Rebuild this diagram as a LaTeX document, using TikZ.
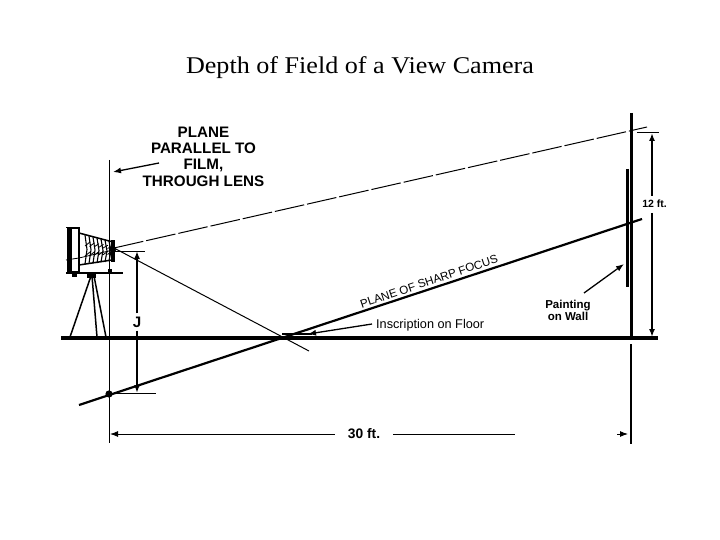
\documentclass[tikz,border=0pt]{standalone}
\usepackage{fontspec}
\setmainfont{Liberation Serif}
\newfontfamily\labelfont{Liberation Sans}
\usetikzlibrary{arrows.meta}
\tikzset{
  x=1pt,y=-1pt,
  thinl/.style={line width=1pt,black},
  med/.style={line width=1.6pt,black},
  heavy/.style={line width=3pt,black},
  headed/.style={-{Latex[length=8pt,width=6pt]}},
  boldlab/.style={font=\labelfont\bfseries\fontsize{15.2}{16.3}\selectfont,align=center,inner sep=0pt},
  smalllab/.style={font=\labelfont\fontsize{12.7}{11.5}\selectfont,align=center,inner sep=0pt},
}
\begin{document}
\begin{tikzpicture}
\useasboundingbox[fill=white] (0,0) rectangle (720,540);
\node[inner sep=0pt,font=\fontsize{24}{26}\selectfont] (title) at (360,68) {\scalebox{1.088}[1]{Depth of Field of a View Camera}};

% named points
\coordinate (lensT) at (109,160); \coordinate (lensB) at (109,443);
\coordinate (floorL) at (61,338); \coordinate (floorR) at (658,338);
\coordinate (wallT) at (631,113); \coordinate (wallB) at (631,338);
\coordinate (wallLT) at (631,344); \coordinate (wallLB) at (631,444);
\coordinate (paintT) at (627,169); \coordinate (paintB) at (627,287);
\coordinate (lens) at (114,248); \coordinate (dashEnd) at (647,127);
\coordinate (focusL) at (79,405); \coordinate (focusR) at (642,219);
\coordinate (diagA) at (114,248); \coordinate (diagB) at (309,351);
\coordinate (hinge) at (109,394);

% main lines
\draw[thinl] (lensT) -- (lensB);
\draw[line width=4pt] (floorL) -- (floorR);
\draw[heavy] (wallT) -- (wallB);
\draw[line width=1.6pt] (wallLT) -- (wallLB);
\draw[heavy] (paintT) -- (paintB);
\draw[line width=1pt,dash pattern=on 30pt off 3pt] (lens) -- (dashEnd);
\draw[line width=2.2pt] (focusL) -- (focusR);
\draw[thinl] (diagA) -- (diagB);
\fill (hinge) circle (3.6);
\draw[line width=2.4pt] (282,334) -- (312,334);

% J dimension
\coordinate (jtopT) at (115,251); \coordinate (jtopE) at (145,251);
\coordinate (jbotT) at (109,393); \coordinate (jbotE) at (156,393);
\draw[thinl] (jtopT) -- (jtopE);
\draw[thinl] (jbotT) -- (jbotE);
\node[boldlab] (J) at (137,322) {J};
\coordinate (jTip) at (137,251); \coordinate (jBot) at (137,393);
\draw[med,headed] (J.north) ++(0,-3) -- (jTip);
\draw[med,headed] (J.south) ++(0,3) -- (jBot);

% 12 ft dimension
\coordinate (tickA) at (637,133); \coordinate (tickB) at (659,133);
\coordinate (twTop) at (652,133); \coordinate (twBot) at (652,337);
\draw[thinl] (tickA) -- (tickB);
\node[font=\labelfont\bfseries\fontsize{10.5}{11}\selectfont,inner sep=0pt] (twelve) at (654.5,204) {12 ft.};
\draw[med,headed] (652,196) -- (twTop);
\draw[med,headed] (652,213) -- (twBot);

% 30 ft dimension
\node[font=\labelfont\bfseries\fontsize{13.8}{12}\selectfont,inner sep=0pt] (thirty) at (364,434) {30 ft.};
\coordinate (thL) at (110,434); \coordinate (thR) at (628,434);
\coordinate (thRs) at (617,434);
\draw[thinl,headed] (thirty.west) ++(-13,0) -- (thL);
\draw[thinl] (thirty.east) ++(13,0) -- (515,434);
\draw[thinl,headed] (thRs) -- (thR);

% labels
\node[boldlab] (plane) at (203.5,156.5) {PLANE\\PARALLEL TO\\FILM,\\THROUGH LENS};
\coordinate (planeFrom) at (159,163); \coordinate (planeTip) at (113,172);
\draw[line width=1.3pt,headed] (planeFrom) -- (planeTip);
\node[smalllab,font=\labelfont\fontsize{11.6}{13}\selectfont,rotate=18.6] (sharp) at (429,281.5) {PLANE OF SHARP FOCUS};
\node[smalllab,anchor=west] (insc) at (376,325) {Inscription on Floor};
\coordinate (inscFrom) at (372,324); \coordinate (inscTip) at (308,334);
\draw[line width=1.3pt,headed] (inscFrom) -- (inscTip);
\node[font=\labelfont\bfseries\fontsize{11.5}{11.5}\selectfont,align=center,inner sep=0pt] (paint) at (568,310.5) {Painting\\on Wall};
\coordinate (paintFrom) at (584,293); \coordinate (paintTip) at (624,264);
\draw[line width=1.3pt,headed] (paintFrom) -- (paintTip);

% camera
\draw[line width=1.5pt] (68,228) rectangle (79,272);
\fill (68.5,228) rectangle (72,272);
\draw[line width=1pt] (66,228) -- (79,228);
\draw[line width=1.5pt] (66,273) -- (123,273);
\fill (72,274) rectangle (77,276.5);
\fill (108,269) rectangle (112,273);
\draw[line width=1.5pt] (79,233) -- (113,242);
\draw[line width=1.5pt] (79,265) -- (112,260);
\draw[line width=0.8pt] (66,260) -- (79,258) -- (113,250);
\foreach \i/\tp/\bt in {0/235/264,1/236/263.5,2/237/263,3/238/263,4/239/262,5/240/262,6/241/261}{
  \draw[line width=1.1pt] ({85+\i*4},\tp) -- ({87+\i*4},{(\tp+\bt)/2}) -- ({85+\i*4},\bt);
}
\foreach \i in {0,...,5}{
  \draw[line width=0.8pt] ({85+\i*4.5},{246+\i*0.5}) -- ({90+\i*4.5},{242+\i*0.8});
  \draw[line width=0.8pt] ({85+\i*4.5},{256-\i*0.3}) -- ({90+\i*4.5},{252-\i*0.2});
}
\fill (111,240) rectangle (114.5,262);
\fill (113,250) circle (3);
% tripod
\fill (87,274) rectangle (96,278);
\draw[line width=1.5pt] (91,276) -- (70,337);
\draw[line width=1.5pt] (92,276) -- (97,337);
\draw[line width=1.5pt] (94,276) -- (106,337);
\end{tikzpicture}
\end{document}
